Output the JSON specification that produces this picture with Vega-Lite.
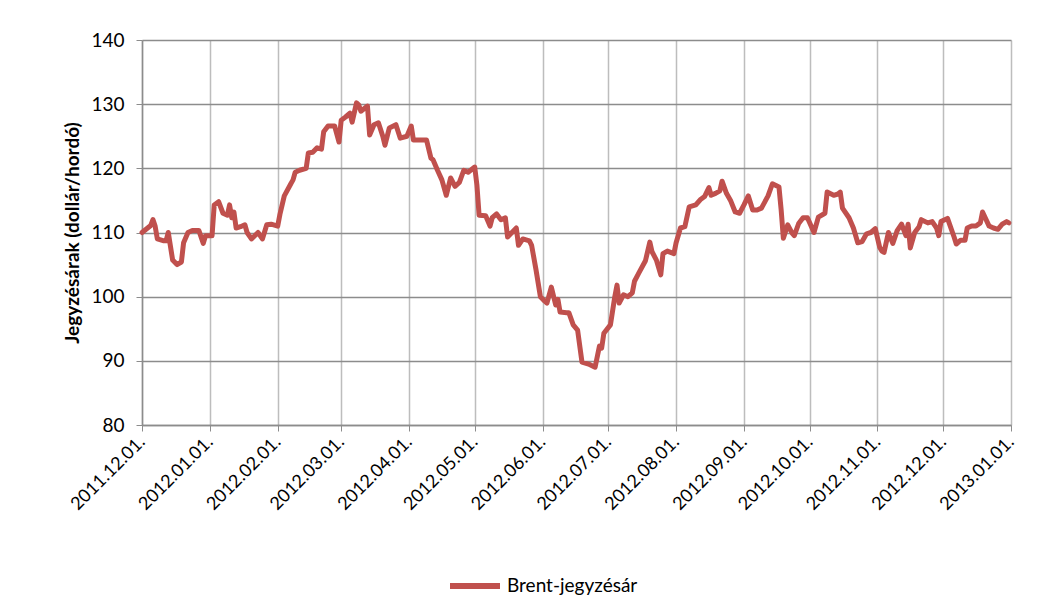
{
  "$schema": "https://vega.github.io/schema/vega-lite/v6.json",
  "width": 869,
  "height": 385,
  "autosize": "none",
  "padding": {"left": 142, "top": 40, "right": 42, "bottom": 183},
  "background": "white",
  "config": {
    "view": {"stroke": null},
    "font": "Lato"
  },
  "data": {
    "values": [
      {"date": "2011-12-01", "price": 110.0},
      {"date": "2011-12-05", "price": 111.1},
      {"date": "2011-12-06", "price": 112.0},
      {"date": "2011-12-07", "price": 111.0},
      {"date": "2011-12-08", "price": 109.0},
      {"date": "2011-12-11", "price": 108.7},
      {"date": "2011-12-12", "price": 108.7},
      {"date": "2011-12-13", "price": 110.0},
      {"date": "2011-12-15", "price": 105.7},
      {"date": "2011-12-17", "price": 105.0},
      {"date": "2011-12-19", "price": 105.4},
      {"date": "2011-12-20", "price": 108.4},
      {"date": "2011-12-22", "price": 110.0},
      {"date": "2011-12-24", "price": 110.3},
      {"date": "2011-12-27", "price": 110.3},
      {"date": "2011-12-29", "price": 108.3},
      {"date": "2011-12-30", "price": 109.5},
      {"date": "2012-01-02", "price": 109.5},
      {"date": "2012-01-03", "price": 114.3},
      {"date": "2012-01-05", "price": 114.8},
      {"date": "2012-01-07", "price": 113.0},
      {"date": "2012-01-09", "price": 112.7},
      {"date": "2012-01-10", "price": 114.3},
      {"date": "2012-01-11", "price": 112.3},
      {"date": "2012-01-12", "price": 113.2},
      {"date": "2012-01-13", "price": 110.7},
      {"date": "2012-01-15", "price": 110.9},
      {"date": "2012-01-17", "price": 111.2},
      {"date": "2012-01-18", "price": 110.0},
      {"date": "2012-01-20", "price": 109.0},
      {"date": "2012-01-23", "price": 110.0},
      {"date": "2012-01-25", "price": 109.0},
      {"date": "2012-01-27", "price": 111.2},
      {"date": "2012-01-29", "price": 111.3},
      {"date": "2012-02-01", "price": 111.0},
      {"date": "2012-02-02", "price": 112.8},
      {"date": "2012-02-04", "price": 115.7},
      {"date": "2012-02-07", "price": 117.6},
      {"date": "2012-02-08", "price": 118.2},
      {"date": "2012-02-09", "price": 119.4},
      {"date": "2012-02-11", "price": 119.7},
      {"date": "2012-02-14", "price": 120.0},
      {"date": "2012-02-15", "price": 122.4},
      {"date": "2012-02-17", "price": 122.5},
      {"date": "2012-02-19", "price": 123.2},
      {"date": "2012-02-21", "price": 123.0},
      {"date": "2012-02-22", "price": 125.7},
      {"date": "2012-02-24", "price": 126.6},
      {"date": "2012-02-27", "price": 126.6},
      {"date": "2012-02-29", "price": 124.1},
      {"date": "2012-03-01", "price": 127.5},
      {"date": "2012-03-03", "price": 128.0},
      {"date": "2012-03-05", "price": 128.6},
      {"date": "2012-03-06", "price": 127.2},
      {"date": "2012-03-08", "price": 130.2},
      {"date": "2012-03-09", "price": 129.9},
      {"date": "2012-03-10", "price": 128.9},
      {"date": "2012-03-13", "price": 129.7},
      {"date": "2012-03-14", "price": 125.2},
      {"date": "2012-03-16", "price": 126.8},
      {"date": "2012-03-18", "price": 127.1},
      {"date": "2012-03-20", "price": 125.0},
      {"date": "2012-03-21", "price": 123.6},
      {"date": "2012-03-23", "price": 126.3},
      {"date": "2012-03-26", "price": 126.8},
      {"date": "2012-03-28", "price": 124.7},
      {"date": "2012-03-31", "price": 125.0},
      {"date": "2012-04-02", "price": 126.6},
      {"date": "2012-04-03", "price": 124.4},
      {"date": "2012-04-06", "price": 124.4},
      {"date": "2012-04-09", "price": 124.4},
      {"date": "2012-04-11", "price": 121.6},
      {"date": "2012-04-12", "price": 121.3},
      {"date": "2012-04-14", "price": 119.7},
      {"date": "2012-04-16", "price": 118.2},
      {"date": "2012-04-18", "price": 115.8},
      {"date": "2012-04-20", "price": 118.5},
      {"date": "2012-04-22", "price": 117.2},
      {"date": "2012-04-24", "price": 117.8},
      {"date": "2012-04-26", "price": 119.7},
      {"date": "2012-04-28", "price": 119.4},
      {"date": "2012-05-01", "price": 120.2},
      {"date": "2012-05-02", "price": 117.4},
      {"date": "2012-05-03", "price": 112.7},
      {"date": "2012-05-06", "price": 112.6},
      {"date": "2012-05-08", "price": 111.0},
      {"date": "2012-05-09", "price": 112.3},
      {"date": "2012-05-11", "price": 112.9},
      {"date": "2012-05-13", "price": 112.0},
      {"date": "2012-05-15", "price": 112.3},
      {"date": "2012-05-16", "price": 109.3},
      {"date": "2012-05-18", "price": 110.0},
      {"date": "2012-05-20", "price": 110.7},
      {"date": "2012-05-21", "price": 108.0},
      {"date": "2012-05-23", "price": 109.0},
      {"date": "2012-05-26", "price": 108.7},
      {"date": "2012-05-27", "price": 108.0},
      {"date": "2012-05-29", "price": 104.2},
      {"date": "2012-05-31", "price": 100.0},
      {"date": "2012-06-02", "price": 99.3},
      {"date": "2012-06-03", "price": 99.0},
      {"date": "2012-06-05", "price": 101.5},
      {"date": "2012-06-07", "price": 98.7},
      {"date": "2012-06-08", "price": 99.6},
      {"date": "2012-06-09", "price": 97.6},
      {"date": "2012-06-12", "price": 97.5},
      {"date": "2012-06-13", "price": 97.5},
      {"date": "2012-06-15", "price": 95.6},
      {"date": "2012-06-17", "price": 94.8},
      {"date": "2012-06-19", "price": 89.8},
      {"date": "2012-06-22", "price": 89.5},
      {"date": "2012-06-25", "price": 89.0},
      {"date": "2012-06-27", "price": 92.3},
      {"date": "2012-06-28", "price": 92.0},
      {"date": "2012-06-29", "price": 94.3},
      {"date": "2012-07-02", "price": 95.6},
      {"date": "2012-07-04", "price": 100.0},
      {"date": "2012-07-05", "price": 101.8},
      {"date": "2012-07-06", "price": 99.0},
      {"date": "2012-07-08", "price": 100.3},
      {"date": "2012-07-10", "price": 100.0},
      {"date": "2012-07-12", "price": 100.6},
      {"date": "2012-07-13", "price": 102.4},
      {"date": "2012-07-15", "price": 103.7},
      {"date": "2012-07-18", "price": 105.6},
      {"date": "2012-07-20", "price": 108.5},
      {"date": "2012-07-21", "price": 107.0},
      {"date": "2012-07-23", "price": 105.7},
      {"date": "2012-07-25", "price": 103.4},
      {"date": "2012-07-26", "price": 106.7},
      {"date": "2012-07-28", "price": 107.1},
      {"date": "2012-07-31", "price": 106.7},
      {"date": "2012-08-01", "price": 108.4},
      {"date": "2012-08-03", "price": 110.7},
      {"date": "2012-08-05", "price": 110.9},
      {"date": "2012-08-07", "price": 114.0},
      {"date": "2012-08-10", "price": 114.3},
      {"date": "2012-08-12", "price": 115.1},
      {"date": "2012-08-14", "price": 115.6},
      {"date": "2012-08-16", "price": 117.0},
      {"date": "2012-08-17", "price": 115.8},
      {"date": "2012-08-19", "price": 116.1},
      {"date": "2012-08-21", "price": 116.5},
      {"date": "2012-08-22", "price": 118.0},
      {"date": "2012-08-24", "price": 116.1},
      {"date": "2012-08-26", "price": 114.9},
      {"date": "2012-08-28", "price": 113.2},
      {"date": "2012-08-30", "price": 113.0},
      {"date": "2012-09-01", "price": 114.3},
      {"date": "2012-09-03", "price": 115.7},
      {"date": "2012-09-05", "price": 113.5},
      {"date": "2012-09-07", "price": 113.5},
      {"date": "2012-09-09", "price": 113.8},
      {"date": "2012-09-12", "price": 115.7},
      {"date": "2012-09-14", "price": 117.6},
      {"date": "2012-09-17", "price": 117.1},
      {"date": "2012-09-18", "price": 113.5},
      {"date": "2012-09-19", "price": 109.1},
      {"date": "2012-09-21", "price": 111.2},
      {"date": "2012-09-23", "price": 109.9},
      {"date": "2012-09-24", "price": 109.5},
      {"date": "2012-09-26", "price": 111.4},
      {"date": "2012-09-28", "price": 112.3},
      {"date": "2012-09-30", "price": 112.3},
      {"date": "2012-10-03", "price": 110.0},
      {"date": "2012-10-05", "price": 112.4},
      {"date": "2012-10-08", "price": 113.0},
      {"date": "2012-10-09", "price": 116.3},
      {"date": "2012-10-12", "price": 115.8},
      {"date": "2012-10-14", "price": 116.0},
      {"date": "2012-10-15", "price": 116.3},
      {"date": "2012-10-16", "price": 113.8},
      {"date": "2012-10-19", "price": 112.3},
      {"date": "2012-10-21", "price": 110.7},
      {"date": "2012-10-23", "price": 108.4},
      {"date": "2012-10-25", "price": 108.6},
      {"date": "2012-10-27", "price": 109.8},
      {"date": "2012-10-29", "price": 110.0},
      {"date": "2012-10-31", "price": 110.6},
      {"date": "2012-11-02", "price": 107.7},
      {"date": "2012-11-03", "price": 107.1},
      {"date": "2012-11-04", "price": 106.9},
      {"date": "2012-11-06", "price": 110.0},
      {"date": "2012-11-08", "price": 108.3},
      {"date": "2012-11-10", "price": 110.3},
      {"date": "2012-11-12", "price": 111.3},
      {"date": "2012-11-14", "price": 109.5},
      {"date": "2012-11-15", "price": 111.3},
      {"date": "2012-11-16", "price": 107.6},
      {"date": "2012-11-18", "price": 110.0},
      {"date": "2012-11-20", "price": 110.9},
      {"date": "2012-11-21", "price": 112.0},
      {"date": "2012-11-24", "price": 111.5},
      {"date": "2012-11-26", "price": 111.7},
      {"date": "2012-11-28", "price": 110.7},
      {"date": "2012-11-29", "price": 109.5},
      {"date": "2012-11-30", "price": 111.7},
      {"date": "2012-12-03", "price": 112.2},
      {"date": "2012-12-06", "price": 109.3},
      {"date": "2012-12-07", "price": 108.2},
      {"date": "2012-12-09", "price": 108.8},
      {"date": "2012-12-11", "price": 108.8},
      {"date": "2012-12-12", "price": 110.7},
      {"date": "2012-12-14", "price": 111.0},
      {"date": "2012-12-16", "price": 111.0},
      {"date": "2012-12-18", "price": 111.5},
      {"date": "2012-12-19", "price": 113.2},
      {"date": "2012-12-22", "price": 111.0},
      {"date": "2012-12-24", "price": 110.7},
      {"date": "2012-12-26", "price": 110.5},
      {"date": "2012-12-28", "price": 111.3},
      {"date": "2012-12-30", "price": 111.7},
      {"date": "2012-12-31", "price": 111.5}
    ]
  },
  "mark": {"type": "line", "strokeWidth": 5, "strokeJoin": "round", "strokeCap": "round"},
  "encoding": {
    "x": {
      "field": "date",
      "type": "temporal",
      "scale": {
        "type": "utc",
        "domain": [
          {"year": 2011, "month": 12, "date": 1, "utc": true},
          {"year": 2013, "month": 1, "date": 1, "utc": true}
        ],
        "nice": false
      },
      "axis": {
        "title": null,
        "values": [
          {"year": 2011, "month": 12, "date": 1, "utc": true},
          {"year": 2012, "month": 1, "date": 1, "utc": true},
          {"year": 2012, "month": 2, "date": 1, "utc": true},
          {"year": 2012, "month": 3, "date": 1, "utc": true},
          {"year": 2012, "month": 4, "date": 1, "utc": true},
          {"year": 2012, "month": 5, "date": 1, "utc": true},
          {"year": 2012, "month": 6, "date": 1, "utc": true},
          {"year": 2012, "month": 7, "date": 1, "utc": true},
          {"year": 2012, "month": 8, "date": 1, "utc": true},
          {"year": 2012, "month": 9, "date": 1, "utc": true},
          {"year": 2012, "month": 10, "date": 1, "utc": true},
          {"year": 2012, "month": 11, "date": 1, "utc": true},
          {"year": 2012, "month": 12, "date": 1, "utc": true},
          {"year": 2013, "month": 1, "date": 1, "utc": true}
        ],
        "labelExpr": "utcFormat(datum.value, '%Y.%m.%d.')",
        "labelAngle": -45,
        "labelAlign": "right",
        "labelBaseline": "middle",
        "labelFontSize": 18,
        "labelColor": "#000000",
        "labelPadding": 8,
        "labelOverlap": false,
        "labelBound": false,
        "labelFlush": false,
        "grid": true,
        "gridColor": "#bdbdbd",
        "gridWidth": 1.5,
        "domainColor": "#8c8c8c",
        "domainWidth": 1.5,
        "tickColor": "#8c8c8c",
        "tickSize": 6,
        "tickWidth": 1
      }
    },
    "y": {
      "field": "price",
      "type": "quantitative",
      "scale": {"domain": [80, 140], "nice": false, "zero": false},
      "axis": {
        "title": "Jegyzésárak (dollár/hordó)",
        "titleFontSize": 19,
        "titleFontWeight": "bold",
        "titleColor": "#000000",
        "titlePadding": 8,
        "values": [80, 90, 100, 110, 120, 130, 140],
        "labelFontSize": 19,
        "labelColor": "#000000",
        "labelPadding": 12,
        "grid": true,
        "gridColor": "#8c8c8c",
        "gridWidth": 1.5,
        "domainColor": "#8c8c8c",
        "domainWidth": 1.5,
        "tickColor": "#8c8c8c",
        "tickSize": 6
      }
    },
    "color": {
      "datum": "Brent-jegyzésár",
      "type": "nominal",
      "scale": {"range": ["#C0504D"]},
      "legend": {
        "title": null,
        "orient": "none",
        "legendX": 305,
        "legendY": 518,
        "symbolType": "stroke",
        "symbolStrokeWidth": 6,
        "symbolSize": 2500,
        "labelFontSize": 19,
        "labelColor": "#000000"
      }
    }
  }
}
